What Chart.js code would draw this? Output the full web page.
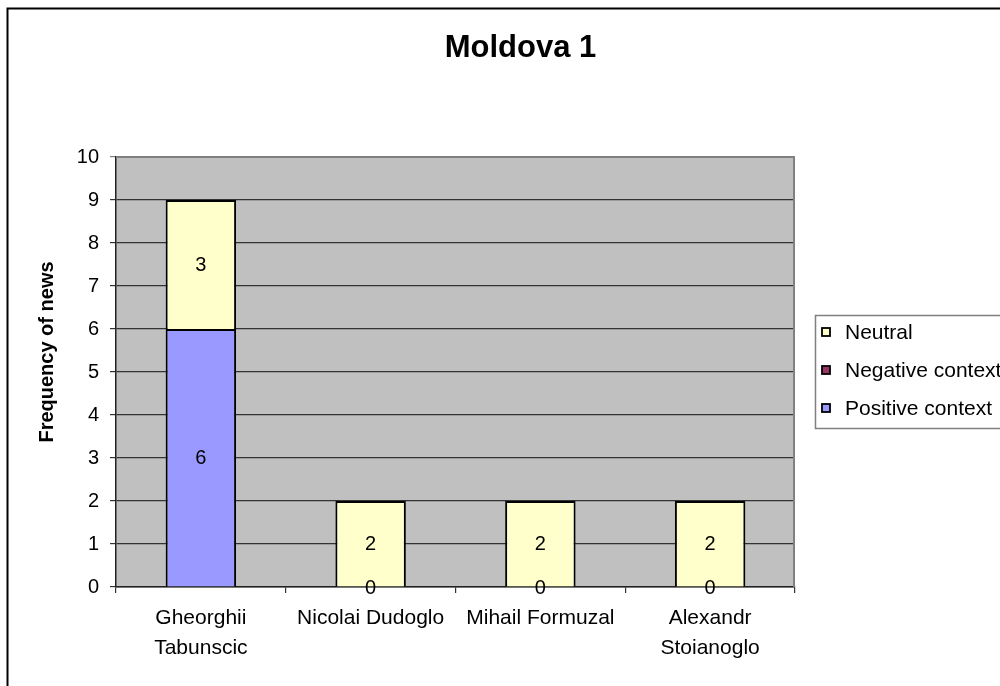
<!DOCTYPE html>
<html>
<head>
<meta charset="utf-8">
<script src="https://cdn.jsdelivr.net/npm/chart.js@4.4.0/dist/chart.umd.min.js"></script>
<style>
  html, body { margin: 0; padding: 0; background: #fff; overflow: hidden; }
  canvas { display: block; }
</style>
</head>
<body>
<canvas id="c" width="1000" height="686"></canvas>
<script>
const chartTitle = 'Moldova 1';
const yAxisTitle = 'Frequency of news';
const categories = [['Gheorghii', 'Tabunscic'], 'Nicolai Dudoglo', 'Mihail Formuzal', ['Alexandr', 'Stoianoglo']];
const positiveContext = [6, 0, 0, 0];
const negativeContext = [null, null, null, null];
const neutral = [3, 2, 2, 2];
const yTicks = [0, 1, 2, 3, 4, 5, 6, 7, 8, 9, 10];

const FONT = '"Liberation Sans", Arial, sans-serif';

const decor = {
  id: 'decor',
  beforeDraw(chart) {
    const { ctx, chartArea: a } = chart;
    ctx.save();
    ctx.fillStyle = '#c0c0c0';
    ctx.fillRect(a.left, a.top, a.right - a.left, a.bottom - a.top);
    ctx.restore();
  },
  beforeDatasetsDraw(chart) {
    const { ctx, chartArea: a } = chart;
    ctx.save();
    ctx.strokeStyle = '#808080';
    ctx.lineWidth = 2;
    ctx.beginPath();
    ctx.moveTo(a.left, a.top);
    ctx.lineTo(a.right - 1, a.top);
    ctx.lineTo(a.right - 1, a.bottom);
    ctx.stroke();
    ctx.restore();
  },
  afterDatasetsDraw(chart) {
    const { ctx } = chart;
    ctx.save();
    ctx.font = '20px ' + FONT;
    ctx.fillStyle = '#000';
    ctx.textAlign = 'center';
    ctx.textBaseline = 'middle';
    chart.data.datasets.forEach((ds, i) => {
      const meta = chart.getDatasetMeta(i);
      meta.data.forEach((bar, j) => {
        const v = ds.data[j];
        if (v === null || v === undefined) return;
        const y = (bar.y + bar.base) / 2;
        ctx.fillText(String(v), bar.x, y + 1);
      });
    });
    ctx.restore();
  },
  afterDraw(chart) {
    const { ctx } = chart;
    ctx.save();
    // title
    ctx.fillStyle = '#000';
    ctx.font = 'bold 31px ' + FONT;
    ctx.textAlign = 'center';
    ctx.textBaseline = 'middle';
    ctx.fillText(chartTitle, 520.5, 48);
    // y axis title
    ctx.save();
    ctx.translate(47, 352);
    ctx.rotate(-Math.PI / 2);
    ctx.font = 'bold 20px ' + FONT;
    ctx.fillText(yAxisTitle, 0, 0);
    ctx.restore();
    // legend
    ctx.fillStyle = '#fff';
    ctx.fillRect(815.5, 315.5, 400, 113);
    ctx.strokeStyle = '#808080';
    ctx.lineWidth = 1.5;
    ctx.strokeRect(815.5, 315.5, 400, 113);
    const items = chart.data.datasets.slice().reverse();
    items.forEach((ds, k) => {
      const cy = 332 + k * 38;
      ctx.fillStyle = ds.backgroundColor;
      ctx.fillRect(822, cy - 4, 8, 8);
      ctx.strokeStyle = '#000';
      ctx.lineWidth = 1.8;
      ctx.strokeRect(822, cy - 4, 8, 8);
      ctx.fillStyle = '#000';
      ctx.font = '21px ' + FONT;
      ctx.textAlign = 'left';
      ctx.textBaseline = 'middle';
      ctx.fillText(ds.label, 845, cy + 1);
    });
    // outer border
    ctx.strokeStyle = '#000';
    ctx.lineWidth = 2;
    ctx.strokeRect(7.5, 8.5, 2000, 2000);
    ctx.restore();
  }
};

new Chart(document.getElementById('c'), {
  type: 'bar',
  data: {
    labels: categories,
    datasets: [
      { label: 'Positive context', data: positiveContext, backgroundColor: '#9999ff' },
      { label: 'Negative context', data: negativeContext, backgroundColor: '#993366' },
      { label: 'Neutral', data: neutral, backgroundColor: '#ffffcc' }
    ]
  },
  options: {
    responsive: false,
    animation: false,
    devicePixelRatio: 1,
    layout: { padding: { top: 157, right: 205, left: 0, bottom: 0 } },
    datasets: {
      bar: {
        borderColor: '#000',
        borderWidth: 2,
        borderSkipped: 'start',
        categoryPercentage: 1,
        barPercentage: 0.415
      }
    },
    plugins: {
      legend: { display: false },
      title: { display: false },
      tooltip: { enabled: false }
    },
    scales: {
      x: {
        stacked: true,
        offset: true,
        grid: { offset: true, drawOnChartArea: false, drawTicks: true, tickLength: 6, color: '#333', lineWidth: 1.2 },
        border: { display: true, color: '#222', width: 1.5 },
        ticks: {
          color: '#000', font: { family: FONT, size: 21, lineHeight: 1.43 },
          padding: 10, maxRotation: 0, autoSkip: false
        },
        afterFit(scale) { scale.height = 99; }
      },
      y: {
        stacked: true,
        min: 0, max: 10,
        afterBuildTicks(scale) { scale.ticks = yTicks.map(v => ({ value: v })); },
        grid: {
          drawTicks: true, tickLength: 6, lineWidth: 1.2,
          color: (c) => (c.tick && c.tick.value === 10) ? '#808080' : '#333'
        },
        border: { display: true, color: '#222', width: 1.5 },
        ticks: { color: '#000', font: { family: FONT, size: 20 }, padding: 11 },
        afterFit(scale) { scale.width = 116; }
      }
    }
  },
  plugins: [decor]
});
</script>
</body>
</html>
